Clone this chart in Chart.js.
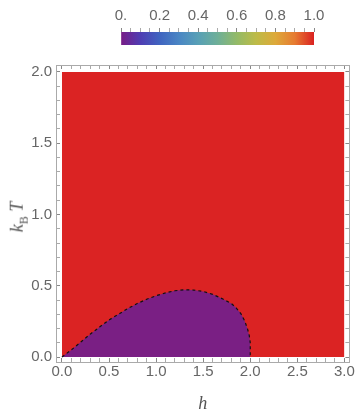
<!DOCTYPE html>
<html>
<head>
<meta charset="utf-8">
<script src="https://cdn.jsdelivr.net/npm/chart.js"></script>
<style>
  html, body { margin: 0; padding: 0; background: #fff; }
  #wrap { position: relative; width: 360px; height: 420px; }
  #main, #bar { position: absolute; left: 0; top: 0; }
  #ytitle {
    position: absolute; left: 19px; top: 217px;
    transform: translate(-50%, -50%) rotate(-90deg);
    font: italic 18px "Liberation Serif", serif; color: #555; white-space: nowrap;
  }
  #ytitle sub { font-style: normal; font-size: 12px; }
</style>
</head>
<body>
<div id="wrap">
  <canvas id="main" width="360" height="420" style="width:360px;height:420px"></canvas>
  <canvas id="bar" width="360" height="52" style="width:360px;height:52px"></canvas>
  <div id="ytitle"><i>k</i><sub>B</sub> <i>T</i></div>
</div>
<script>
// phase boundary (dashed curve)
const hBoundary = [0, 0.1, 0.2, 0.3, 0.4, 0.5, 0.6, 0.7, 0.8, 0.9, 1.0, 1.1, 1.2, 1.3, 1.4, 1.5, 1.6, 1.7, 1.8, 1.85, 1.9, 1.94, 1.97, 1.99, 2.0, 2.0];
const tBoundary = [0, 0.05, 0.105, 0.16, 0.21, 0.26, 0.30, 0.34, 0.375, 0.405, 0.43, 0.45, 0.465, 0.472, 0.47, 0.46, 0.44, 0.41, 0.375, 0.345, 0.305, 0.255, 0.2, 0.15, 0.1, 0];

// plotted domain
const hRange = [0, 3];
const tRange = [0, 2];

// axis ticks
const xTickValues = [0, 0.5, 1, 1.5, 2, 2.5, 3];
const xTickLabels = ['0.0', '0.5', '1.0', '1.5', '2.0', '2.5', '3.0'];
const yTickValues = [0, 0.5, 1, 1.5, 2];
const yTickLabels = ['0.0', '0.5', '1.0', '1.5', '2.0'];

// colour bar
const barTickValues = [0, 0.2, 0.4, 0.6, 0.8, 1];
const barTickLabels = ['0.', '0.2', '0.4', '0.6', '0.8', '1.0'];
const barStops  = [0, 0.1, 0.2, 0.3, 0.4, 0.5, 0.6, 0.7, 0.8, 0.9, 1];
const barColors = ['#781c86', '#4f3db3', '#4064c0', '#4a86c4', '#58a0b6', '#6eaf98', '#93ba68', '#bdbb48', '#dda93a', '#e67b31', '#da2121'];

const colorOut = '#db2323';   // value 1.0
const colorIn = '#7a1f84';    // value 0
const gray = '#666';
const frameGray = '#aaa';

function withMinor(major, step) {
  const out = [];
  const lo = major[0], hi = major[major.length - 1];
  const n = Math.round((hi - lo) / step);
  for (let i = 0; i <= n; i++) out.push(+(lo + i * step).toFixed(4));
  return out;
}
function tickBuilder(major, step) {
  return scale => { scale.ticks = withMinor(major, step).map(v => ({ value: v })); };
}
function labeler(values, labels) {
  return v => {
    const i = values.findIndex(m => Math.abs(m - v) < 1e-6);
    return i >= 0 ? labels[i] : '';
  };
}
function isMajor(values) {
  return c => values.some(m => Math.abs(m - c.tick.value) < 1e-6) ? '#888' : '#aaa';
}

const tickFont = { family: 'Liberation Sans', size: 15 };

function frameAxis(opts) {
  return Object.assign({
    type: 'linear',
    border: { display: true, color: frameGray, width: 1 }
  }, opts);
}

const boundaryPts = hBoundary.map((h, i) => ({ x: h, y: tBoundary[i] }));

new Chart(document.getElementById('main'), {
  type: 'line',
  data: {
    datasets: [
      { // ordered region, fills whole domain
        data: [{ x: hRange[0], y: tRange[1] }, { x: hRange[1], y: tRange[1] }],
        fill: 'origin', backgroundColor: colorOut, borderWidth: 0, pointRadius: 0, order: 3
      },
      {
        data: boundaryPts,
        fill: 'origin', backgroundColor: colorIn, borderWidth: 0, pointRadius: 0, order: 2
      },
      {
        data: boundaryPts,
        fill: false, borderColor: '#111', borderWidth: 1.2, borderDash: [3, 3], pointRadius: 0, order: 1
      }
    ]
  },
  options: {
    responsive: false,
    animation: false,
    devicePixelRatio: 1,
    layout: { padding: 0 },
    plugins: { legend: { display: false }, tooltip: { enabled: false } },
    scales: {
      x: frameAxis({
        position: 'bottom', min: -0.063, max: 3.053,
        afterBuildTicks: tickBuilder(xTickValues, 0.1),
        afterFit: s => { s.height = 58; },
        ticks: { autoSkip: false, maxRotation: 0, color: gray, font: tickFont, padding: 5, callback: labeler(xTickValues, xTickLabels) },
        grid: { drawOnChartArea: false, tickLength: -4, tickColor: isMajor(xTickValues) },
        title: { display: true, text: 'h', color: '#555', font: { family: 'Liberation Serif', style: 'italic', size: 18 }, padding: { top: 0, bottom: 5 } }
      }),
      x2: frameAxis({
        position: 'top', min: -0.063, max: 3.053,
        afterBuildTicks: tickBuilder(xTickValues, 0.1),
        afterFit: s => { s.height = 65; },
        ticks: { autoSkip: false, maxRotation: 0, callback: () => '' },
        grid: { drawOnChartArea: false, tickLength: -4, tickColor: isMajor(xTickValues) }
      }),
      y: frameAxis({
        position: 'left', min: -0.035, max: 2.049,
        afterBuildTicks: tickBuilder(yTickValues, 0.1),
        afterFit: s => { s.width = 56; },
        ticks: { autoSkip: false, color: gray, font: tickFont, padding: 8, callback: labeler(yTickValues, yTickLabels) },
        grid: { drawOnChartArea: false, tickLength: -4, tickColor: isMajor(yTickValues) }
      }),
      y2: frameAxis({
        position: 'right', min: -0.035, max: 2.049,
        afterBuildTicks: tickBuilder(yTickValues, 0.1),
        afterFit: s => { s.width = 9; },
        ticks: { autoSkip: false, callback: () => '' },
        grid: { drawOnChartArea: false, tickLength: -4, tickColor: isMajor(yTickValues) }
      })
    }
  }
});

new Chart(document.getElementById('bar'), {
  type: 'bar',
  data: {
    labels: [''],
    datasets: [{
      data: [[barTickValues[0], barTickValues[barTickValues.length - 1]]],
      backgroundColor: c => {
        const chart = c.chart;
        if (!chart.chartArea) return barColors[0];
        const xs = chart.scales.x;
        const g = chart.ctx.createLinearGradient(xs.getPixelForValue(0), 0, xs.getPixelForValue(1), 0);
        barStops.forEach((s, i) => g.addColorStop(s, barColors[i]));
        return g;
      },
      borderWidth: 0, barPercentage: 1, categoryPercentage: 1
    }]
  },
  options: {
    indexAxis: 'y',
    responsive: false,
    animation: false,
    devicePixelRatio: 1,
    layout: { padding: { left: 121, right: 46, top: 0, bottom: 7 } },
    plugins: { legend: { display: false }, tooltip: { enabled: false } },
    scales: {
      x: {
        type: 'linear', position: 'top', min: 0, max: 1,
        afterBuildTicks: tickBuilder(barTickValues, 0.05),
        afterFit: s => { s.height = 32; },
        ticks: { autoSkip: false, maxRotation: 0, color: gray, font: tickFont, padding: 3, callback: labeler(barTickValues, barTickLabels) },
        grid: { drawOnChartArea: false, tickLength: 4, tickColor: isMajor(barTickValues) },
        border: { display: false }
      },
      y: { display: false }
    }
  }
});
</script>
</body>
</html>
